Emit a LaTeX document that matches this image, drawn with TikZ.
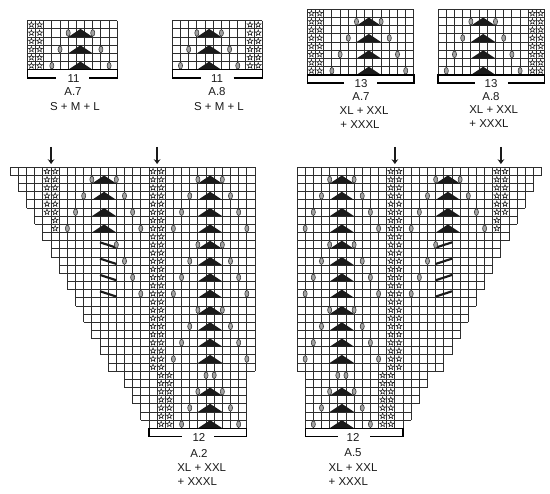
\documentclass[tikz,border=0pt]{standalone}
\usepackage{fontspec}
\setmainfont{Liberation Sans}
\usetikzlibrary{arrows.meta}
\definecolor{gridc}{HTML}{2E2E2E}
\definecolor{inkc}{HTML}{1A1A1A}
\definecolor{yoc}{HTML}{A0A0A0}
\tikzset{
  gridline/.style={draw=gridc,line width=0.68pt},
  bracketline/.style={draw=black,line width=0.95pt},
  starline/.style={draw=inkc,line width=0.4pt,line join=miter},
  yomark/.style={draw=gridc,fill=yoc,line width=0.4pt},
  motif/.style={fill=inkc,draw=none},
  barline/.style={draw=inkc,line width=1.6pt},
  downarrow/.style={draw=inkc,line width=0.95pt,-{Stealth[length=3.6pt,width=5pt]}},
  lab/.style={font=\fontsize{8.6pt}{10pt}\selectfont,text=inkc,inner sep=0pt,anchor=center},
}
% star centred in cell: column index, row index (1-based)
\newcommand\cellstar[2]{\draw[starline,shift={(#1+0.5,#2-0.5)},scale=0.84]
  (0,-0.44) -- (0.11,-0.15) -- (0.42,-0.14) -- (0.175,0.056) -- (0.26,0.357) -- (0,0.184)
  -- (-0.26,0.357) -- (-0.175,0.056) -- (-0.42,-0.14) -- (-0.11,-0.15) -- cycle;}
\newcommand\yarn[2]{\draw[yomark] (#1,#2-0.5) ellipse [x radius=0.25,y radius=0.41];}
\newcommand\peak[2]{\path[motif] (#1,#2) -- (#1+1.5,#2-1) -- (#1+3,#2) -- cycle;}
\newcommand\slant[2]{\draw[barline] (#1,#2-0.8) -- (#1+2,#2-0.15);}
\newcommand\bracket[3]{% left, right, bottom-row
  \pgfmathsetmacro\bmid{(#1+#2)/2}
  \draw[bracketline] (\bmid-2,#3+1) -- (#1,#3+1) -- (#1,#3) -- (#2,#3) -- (#2,#3+1) -- (\bmid+2,#3+1);}
% small chart: cols, rows, left index of motif
\newcommand\smallchart[3]{%
  \foreach \rr in {0,...,#2}{\draw[gridline] (0,\rr) -- (#1,\rr);}
  \foreach \kk in {0,...,#1}{\draw[gridline] (\kk,0) -- (\kk,#2);}
  \foreach \rr in {1,...,#2}{\cellstar{0}{\rr}\cellstar{1}{\rr}}
  \pgfmathtruncatemacro\nm{#2/2}
  \foreach \ii in {1,...,\nm}{
    \pgfmathtruncatemacro\rw{2*\ii}
    \peak{#3}{\rw}
    \pgfmathtruncatemacro\ka{#3-\ii+1}
    \pgfmathtruncatemacro\kb{#3+3+\ii-1}
    \yarn{\ka}{\rw}\yarn{\kb}{\rw}
  }
  \bracket{0}{#1}{#2}
}
\newcommand\bigchart{%
  \foreach \rr/\ls/\rs in {1/0/30,2/1/30,3/1/30,4/2/30,5/2/30,6/3/30,7/3/30,8/4/30,9/4/30,
     10/5/30,11/5/30,12/6/30,13/6/30,14/7/30,15/7/30,16/8/30,17/8/30,18/9/30,19/9/30,
     20/10/30,21/10/30,22/11/30,23/11/30,24/12/30,25/12/30,26/14/29,27/14/29,28/15/29,
     29/15/29,30/16/29,31/16/29,32/17/29}{
    \draw[gridline] (\ls,\rr-1) -- (\rs,\rr-1) (\ls,\rr) -- (\rs,\rr);
    \foreach \kk in {\ls,...,\rs}{\draw[gridline] (\kk,\rr-1) -- (\kk,\rr);}
  }
  \foreach \rr in {1,...,6}{\cellstar{4}{\rr}}
  \foreach \rr in {1,...,8}{\cellstar{5}{\rr}}
  \foreach \rr in {1,...,25}{\cellstar{17}{\rr}\cellstar{18}{\rr}}
  \foreach \rr in {26,...,32}{\cellstar{18}{\rr}\cellstar{19}{\rr}}
  \foreach \rr/\ka/\kb in {2/10/13,4/9/14,6/8/15,8/7/16}{\peak{10}{\rr}\yarn{\ka}{\rr}\yarn{\kb}{\rr}}
  \foreach \rr/\kb in {10/13,12/14,14/15,16/16}{\slant{11}{\rr}\yarn{\kb}{\rr}}
  \foreach \rr/\ka/\kb in {2/23/26,4/22/27,6/21/28,8/20/29,10/23/26,12/22/27,14/21/28,16/20/29,
     18/23/26,20/22/27,22/21/28,24/20/29,28/23/26,30/22/27,32/21/28}{\peak{23}{\rr}\yarn{\ka}{\rr}\yarn{\kb}{\rr}}
  \yarn{24}{26}\yarn{25}{26}
  \bracket{17}{29}{32}
  \coordinate (a1) at (5,-2.5); \coordinate (a1e) at (5,-0.4);
  \coordinate (a2) at (18,-2.5); \coordinate (a2e) at (18,-0.4);
  \draw[downarrow] (a1) -- (a1e);
  \draw[downarrow] (a2) -- (a2e);
}
\begin{document}
\begin{tikzpicture}[x=0.75pt,y=-0.75pt]
\useasboundingbox (0,0) rectangle (550,493);
\begin{scope}[shift={(27.3,20.7)},x=6.135pt,y=-6.135pt]\smallchart{11}{6}{5}\end{scope}
\begin{scope}[shift={(262.3,20.7)},x=-6.135pt,y=-6.135pt]\smallchart{11}{6}{5}\end{scope}
\begin{scope}[shift={(307.3,9.3)},x=6.15pt,y=-6.15pt]\smallchart{13}{8}{6}\end{scope}
\begin{scope}[shift={(544.7,9.3)},x=-6.15pt,y=-6.15pt]\smallchart{13}{8}{6}\end{scope}
\begin{scope}[shift={(10.3,167.3)},x=6.117pt,y=-6.117pt,name prefix=left-]\bigchart\end{scope}
\begin{scope}[shift={(541.7,167.3)},x=-6.117pt,y=-6.117pt,name prefix=right-]\bigchart\end{scope}
% labels
\node[lab] (n1) at (73.5,79) {11};
\node[lab] (t1) at (73,92) {A.7};
\node[lab] (s1) at (75,107) {S + M + L};
\node[lab] (n2) at (217,79) {11};
\node[lab] (t2) at (217,92) {A.8};
\node[lab] (s2) at (219,107) {S + M + L};
\node[lab] (n3) at (361,83.5) {13};
\node[lab] (t3) at (361,96.5) {A.7};
\node[lab] (s3) at (364,111) {XL + XXL};
\node[lab] (u3) at (360,125) {+ XXXL};
\node[lab] (n4) at (491,83.5) {13};
\node[lab] (t4) at (491,96.5) {A.8};
\node[lab] (s4) at (493.7,110) {XL + XXL};
\node[lab] (u4) at (489,123.5) {+ XXXL};
\node[lab] (n5) at (199,437.5) {12};
\node[lab] (t5) at (199,453) {A.2};
\node[lab] (s5) at (201.7,467.7) {XL + XXL};
\node[lab] (u5) at (197.3,482) {+ XXXL};
\node[lab] (n6) at (353,437.5) {12};
\node[lab] (t6) at (353,453) {A.5};
\node[lab] (s6) at (353,467.7) {XL + XXL};
\node[lab] (u6) at (348.3,482) {+ XXXL};
\end{tikzpicture}
\end{document}
